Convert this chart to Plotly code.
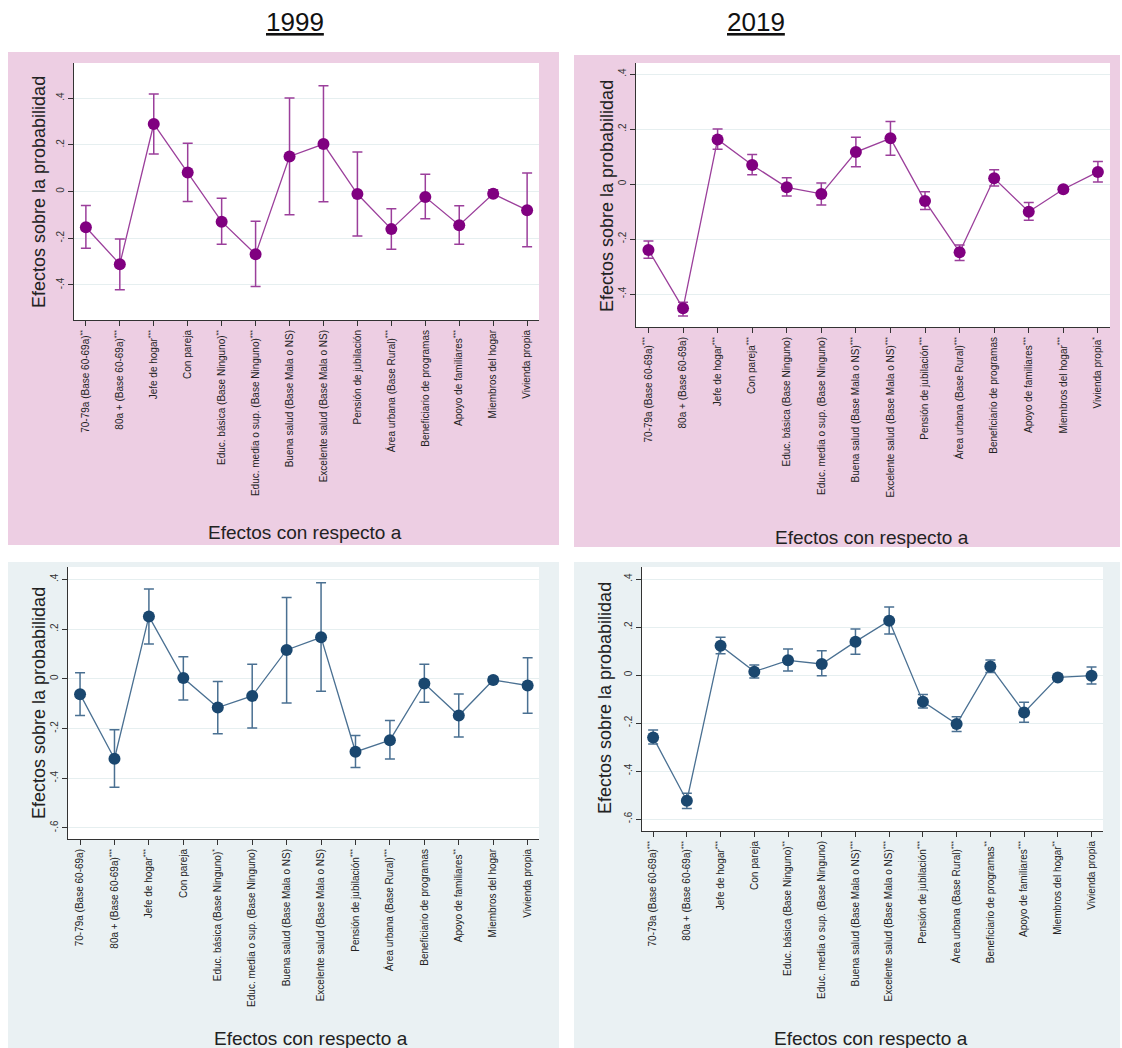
import plotly.graph_objects as go

W, H = 1122, 1048
FONT = "Arial, Liberation Sans, sans-serif"

# Variables in the model (x-axis categories)
categories = [
    "70-79a (Base 60-69a)",
    "80a + (Base 60-69a)",
    "Jefe de hogar",
    "Con pareja",
    "Educ. básica (Base Ninguno)",
    "Educ. media o sup. (Base Ninguno)",
    "Buena salud (Base Mala o NS)",
    "Excelente salud (Base Mala o NS)",
    "Pensión de jubilación",
    "Área urbana (Base Rural)",
    "Beneficiario de programas",
    "Apoyo de familiares",
    "Miembros del hogar",
    "Vivienda propia",
]

# Significance stars per model
stars_top_1999 = ["**", "***", "***", "", "**", "***", "", "", "", "***", "", "***", "", ""]
stars_top_2019 = ["***", "", "***", "***", "", "", "***", "***", "***", "***", "", "***", "***", "*"]
stars_bot_1999 = ["", "***", "***", "", "*", "", "", "", "***", "***", "", "**", "", ""]
stars_bot_2019 = ["***", "***", "***", "", "**", "", "***", "***", "***", "***", "**", "***", "**", ""]

# Marginal effects and 95% confidence bounds
coef_top_1999 = [-0.153, -0.311, 0.289, 0.081, -0.129, -0.269, 0.150, 0.203, -0.011, -0.161, -0.024, -0.144, -0.010, -0.080]
low_top_1999 = [-0.243, -0.420, 0.161, -0.043, -0.226, -0.407, -0.099, -0.044, -0.190, -0.247, -0.117, -0.226, -0.021, -0.237]
high_top_1999 = [-0.060, -0.203, 0.417, 0.207, -0.029, -0.127, 0.400, 0.453, 0.169, -0.074, 0.074, -0.061, 0.007, 0.079]

coef_top_2019 = [-0.240, -0.452, 0.162, 0.069, -0.012, -0.036, 0.116, 0.166, -0.062, -0.248, 0.021, -0.101, -0.019, 0.044]
low_top_2019 = [-0.270, -0.480, 0.126, 0.034, -0.044, -0.076, 0.063, 0.105, -0.093, -0.278, -0.007, -0.132, -0.027, 0.007]
high_top_2019 = [-0.207, -0.430, 0.200, 0.107, 0.023, 0.004, 0.170, 0.227, -0.028, -0.222, 0.052, -0.067, -0.012, 0.082]

coef_bot_1999 = [-0.062, -0.322, 0.251, 0.003, -0.116, -0.069, 0.116, 0.167, -0.294, -0.247, -0.019, -0.148, -0.005, -0.027]
low_bot_1999 = [-0.148, -0.437, 0.140, -0.085, -0.221, -0.198, -0.097, -0.050, -0.357, -0.323, -0.094, -0.234, -0.015, -0.139]
high_bot_1999 = [0.024, -0.205, 0.361, 0.089, -0.011, 0.059, 0.327, 0.387, -0.228, -0.168, 0.059, -0.061, 0.008, 0.085]

coef_bot_2019 = [-0.260, -0.524, 0.122, 0.014, 0.061, 0.046, 0.139, 0.226, -0.111, -0.204, 0.035, -0.156, -0.010, -0.003]
low_bot_2019 = [-0.288, -0.556, 0.089, -0.013, 0.017, -0.003, 0.086, 0.171, -0.138, -0.235, 0.010, -0.197, -0.019, -0.038]
high_bot_2019 = [-0.229, -0.493, 0.157, 0.042, 0.108, 0.101, 0.192, 0.283, -0.081, -0.174, 0.063, -0.114, 0.000, 0.033]

y_tick_vals = [-0.6, -0.4, -0.2, 0.0, 0.2, 0.4]
y_tick_text = ["-.6", "-.4", "-.2", "0", ".2", ".4"]

PINK_BG = "#EDCEE3"
BLUE_BG = "#EAF1F3"
PURPLE = "#800080"
PURPLE_LINE = "#9B3F9B"
NAVY = "#1A476F"
NAVY_LINE = "#4A7092"


def px_x(p):
    return p / W


def px_y(p):
    return 1 - p / H


# Panel definitions: box (pixels), plot area (pixels), axis ranges, styling
panels = [
    dict(coef=coef_top_1999, low=low_top_1999, high=high_top_1999, stars=stars_top_1999,
         box=(8, 52, 559, 545), area=(74, 63, 539, 320), xr=(-0.35, 13.35), yr=(-0.55, 0.55),
         bg=PINK_BG, mk=PURPLE, ln=PURPLE_LINE, eb=PURPLE_LINE,
         ytitle=(39, 192), xtitle=(305, 533)),
    dict(coef=coef_top_2019, low=low_top_2019, high=high_top_2019, stars=stars_top_2019,
         box=(574, 55, 1120, 547), area=(636, 63, 1110, 327), xr=(-0.36, 13.35), yr=(-0.52, 0.44),
         bg=PINK_BG, mk=PURPLE, ln=PURPLE_LINE, eb=PURPLE_LINE,
         ytitle=(607, 196), xtitle=(872, 537)),
    dict(coef=coef_bot_1999, low=low_bot_1999, high=high_bot_1999, stars=stars_bot_1999,
         box=(8, 562, 559, 1048), area=(68, 567, 539, 839), xr=(-0.35, 13.33), yr=(-0.645, 0.45),
         bg=BLUE_BG, mk=NAVY, ln=NAVY_LINE, eb=NAVY_LINE,
         ytitle=(39, 703), xtitle=(311, 1038)),
    dict(coef=coef_bot_2019, low=low_bot_2019, high=high_bot_2019, stars=stars_bot_2019,
         box=(574, 562, 1120, 1048), area=(642, 567, 1103, 831), xr=(-0.33, 13.34), yr=(-0.65, 0.45),
         bg=BLUE_BG, mk=NAVY, ln=NAVY_LINE, eb=NAVY_LINE,
         ytitle=(605, 698), xtitle=(871, 1038)),
]

fig = go.Figure()
shapes = []
annotations = []
layout_axes = {}

for i, p in enumerate(panels, start=1):
    xa = "x" if i == 1 else f"x{i}"
    ya = "y" if i == 1 else f"y{i}"
    xkey = "xaxis" if i == 1 else f"xaxis{i}"
    ykey = "yaxis" if i == 1 else f"yaxis{i}"

    x0, y0, x1, y1 = p["box"]
    shapes.append(dict(type="rect", xref="paper", yref="paper", layer="below",
                       x0=px_x(x0), x1=px_x(x1), y0=px_y(y1), y1=px_y(y0),
                       fillcolor=p["bg"], line=dict(width=0)))
    ax0, ay0, ax1, ay1 = p["area"]
    shapes.append(dict(type="rect", xref="paper", yref="paper", layer="below",
                       x0=px_x(ax0), x1=px_x(ax1), y0=px_y(ay1), y1=px_y(ay0),
                       fillcolor="white", line=dict(width=0)))

    xs = list(range(len(categories)))
    err_plus = [h - c for h, c in zip(p["high"], p["coef"])]
    err_minus = [c - l for c, l in zip(p["coef"], p["low"])]

    fig.add_trace(go.Scatter(
        x=xs, y=p["coef"], mode="lines+markers", xaxis=xa, yaxis=ya,
        line=dict(color=p["ln"], width=1.3),
        marker=dict(color=p["mk"], size=12),
        error_y=dict(type="data", symmetric=False, array=err_plus, arrayminus=err_minus,
                     color=p["eb"], thickness=1.5, width=5),
        showlegend=False, hoverinfo="skip",
    ))

    ticktext = [c + (f"<sup>{s}</sup>" if s else "") for c, s in zip(categories, p["stars"])]
    yr = p["yr"]
    yv = [v for v in y_tick_vals if yr[0] - 1e-9 <= v <= yr[1] + 1e-9]
    yt = [t for v, t in zip(y_tick_vals, y_tick_text) if yr[0] - 1e-9 <= v <= yr[1] + 1e-9]

    layout_axes[xkey] = dict(
        domain=[px_x(ax0), px_x(ax1)], range=list(p["xr"]), anchor=ya,
        tickvals=xs, ticktext=ticktext, tickangle=-90,
        tickfont=dict(family=FONT, size=10, color="#222"),
        showgrid=False, zeroline=False, showline=True, linecolor="#333", linewidth=1,
        ticks="outside", ticklen=5, tickcolor="#333", fixedrange=True,
    )
    layout_axes[ykey] = dict(
        domain=[px_y(ay1), px_y(ay0)], range=list(yr), anchor=xa,
        tickvals=yv, ticktext=yt, tickangle=-90,
        tickfont=dict(family=FONT, size=10, color="#333"),
        showgrid=True, gridcolor="#E6EFF0", gridwidth=1,
        zeroline=False, showline=True, linecolor="#333", linewidth=1,
        ticks="outside", ticklen=5, tickcolor="#333", fixedrange=True,
    )

    tx, ty = p["ytitle"]
    annotations.append(dict(text="Efectos sobre la probabilidad", xref="paper", yref="paper",
                            x=px_x(tx), y=px_y(ty), textangle=-90, showarrow=False,
                            xanchor="center", yanchor="middle",
                            font=dict(family=FONT, size=18, color="#222")))
    tx, ty = p["xtitle"]
    annotations.append(dict(text="Efectos con respecto a", xref="paper", yref="paper",
                            x=px_x(tx), y=px_y(ty), showarrow=False,
                            xanchor="center", yanchor="middle",
                            font=dict(family=FONT, size=19, color="#222")))

# Year headings
for label, cx in (("1999", 295), ("2019", 756)):
    annotations.append(dict(text=f"<u>{label}</u>", xref="paper", yref="paper",
                            x=px_x(cx), y=px_y(22), showarrow=False,
                            xanchor="center", yanchor="middle",
                            font=dict(family=FONT, size=26, color="#111")))

fig.update_layout(
    width=W, height=H, margin=dict(l=0, r=0, t=0, b=0),
    paper_bgcolor="white", plot_bgcolor="white",
    shapes=shapes, annotations=annotations,
    **layout_axes,
)

fig.write_html("out.html")
